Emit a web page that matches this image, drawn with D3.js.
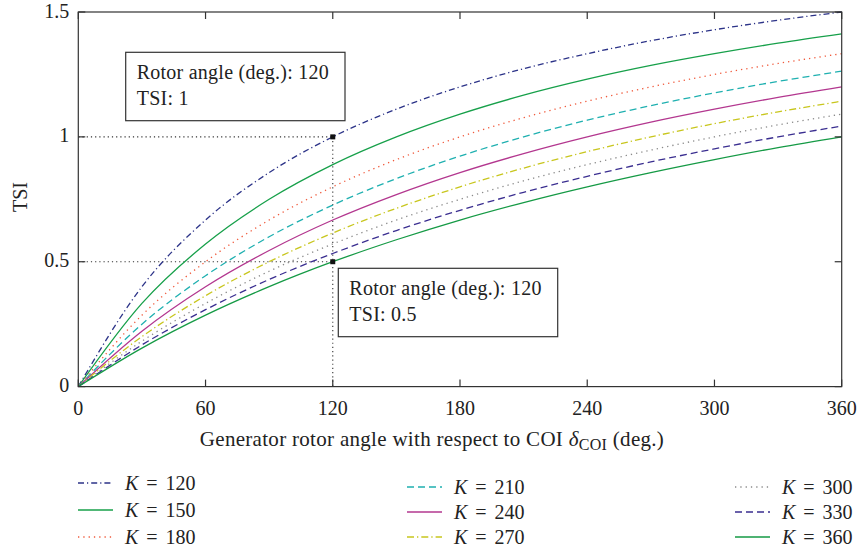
<!DOCTYPE html>
<html><head><meta charset="utf-8">
<script src="https://cdn.jsdelivr.net/npm/d3@7"></script>
<style>body{margin:0;background:#fff}svg{display:block}text{font-family:"Liberation Serif","DejaVu Serif",serif;fill:#222}</style>
</head><body><svg id="c" width="860" height="552"></svg>
<script>
const angles = [0,30,60,90,120,150,180,210,240,270,300,330,360];
const kValues = [120,150,180,210,240,270,300,330,360];
const tsi120 = [0,0.400,0.667,0.857,1.000,1.111,1.200,1.273,1.333,1.385,1.429,1.467,1.500];
const tsi150 = [0,0.333,0.571,0.750,0.889,1.000,1.091,1.167,1.231,1.286,1.333,1.375,1.412];
const tsi180 = [0,0.286,0.500,0.667,0.800,0.909,1.000,1.077,1.143,1.200,1.250,1.294,1.333];
const tsi210 = [0,0.250,0.444,0.600,0.727,0.833,0.923,1.000,1.067,1.125,1.176,1.222,1.263];
const tsi240 = [0,0.222,0.400,0.545,0.667,0.769,0.857,0.933,1.000,1.059,1.111,1.158,1.200];
const tsi270 = [0,0.200,0.364,0.500,0.615,0.714,0.800,0.875,0.941,1.000,1.053,1.100,1.143];
const tsi300 = [0,0.182,0.333,0.462,0.571,0.667,0.750,0.824,0.889,0.947,1.000,1.048,1.091];
const tsi330 = [0,0.167,0.308,0.429,0.533,0.625,0.706,0.778,0.842,0.900,0.952,1.000,1.043];
const tsi360 = [0,0.154,0.286,0.400,0.500,0.588,0.667,0.737,0.800,0.857,0.909,0.957,1.000];
const xTicks = [0,60,120,180,240,300,360];
const yTicks = [0,0.5,1,1.5];
const yTickLabels = ["0","0.5","1","1.5"];
const markers = [{x:120,y:1,label:["Rotor angle (deg.): 120","TSI: 1"]},{x:120,y:0.5,label:["Rotor angle (deg.): 120","TSI: 0.5"]}];

const series = [tsi120,tsi150,tsi180,tsi210,tsi240,tsi270,tsi300,tsi330,tsi360];
const colors = ["#2c3388","#17a04a","#f05a3c","#1fb0b0","#b3378f","#c8c61e","#8a8a8a","#3a2e90","#159a45"];
const dashes = ["6,3,1.2,3","none","1.3,4","7,4","none","7,3,1.3,3","1.3,4","7,4","none"];

const svg = d3.select("#c");
const L=78.3,R=841.7,T=12,B=386.6;
const FS=20;
const x = d3.scaleLinear().domain([0,360]).range([L,R]);
const y = d3.scaleLinear().domain([0,1.5]).range([B,T]);

// guide lines
const g = svg.append("g");
g.append("line").attr("x1",x(0)).attr("x2",x(120)).attr("y1",y(1)).attr("y2",y(1)).attr("stroke","#333").attr("stroke-dasharray","1.2,3").attr("stroke-width",1.1);
g.append("line").attr("x1",x(0)).attr("x2",x(120)).attr("y1",y(0.5)).attr("y2",y(0.5)).attr("stroke","#333").attr("stroke-dasharray","1.2,3").attr("stroke-width",1.1);
g.append("line").attr("x1",x(120)).attr("x2",x(120)).attr("y1",y(1)).attr("y2",y(0)).attr("stroke","#333").attr("stroke-dasharray","1.2,3").attr("stroke-width",1.1);

const line = d3.line().x((d,i)=>x(angles[i])).y(d=>y(d)).curve(d3.curveMonotoneX);
series.forEach((s,i)=>{
  svg.append("path").attr("d",line(s)).attr("fill","none").attr("stroke",colors[i]).attr("stroke-width",1.3).attr("stroke-dasharray",dashes[i]);
});

// axes frame
const ax = svg.append("g").attr("stroke","#333").attr("stroke-width",1.2);
ax.append("rect").attr("x",L).attr("y",T).attr("width",R-L).attr("height",B-T).attr("fill","none");
xTicks.forEach(t=>{
  ax.append("line").attr("x1",x(t)).attr("x2",x(t)).attr("y1",B).attr("y2",B-7);
  ax.append("line").attr("x1",x(t)).attr("x2",x(t)).attr("y1",T).attr("y2",T+7);
  svg.append("text").attr("x",x(t)).attr("y",B+28.5).attr("text-anchor","middle").attr("font-size",FS).text(t);
});
yTicks.forEach((t,i)=>{
  ax.append("line").attr("x1",L).attr("x2",L+7).attr("y1",y(t)).attr("y2",y(t));
  ax.append("line").attr("x1",R).attr("x2",R-7).attr("y1",y(t)).attr("y2",y(t));
  svg.append("text").attr("x",L-9).attr("y",y(t)+5.5).attr("text-anchor","end").attr("font-size",FS).text(yTickLabels[i]);
});

// markers & annotations
const boxes=[{x:125.7,y:52.3,w:219.3,h:68.4},{x:338.3,y:268.3,w:219.4,h:68.4}];
markers.forEach((m,i)=>{
  svg.append("rect").attr("x",x(m.x)-2.5).attr("y",y(m.y)-2.5).attr("width",5).attr("height",5).attr("fill","#111");
  const b=boxes[i];
  svg.append("rect").attr("x",b.x).attr("y",b.y).attr("width",b.w).attr("height",b.h).attr("fill","#fff").attr("stroke","#333").attr("stroke-width",1.2);
  m.label.forEach((s,j)=>svg.append("text").attr("x",b.x+11).attr("y",b.y+27+j*25.5).attr("font-size",FS).attr("letter-spacing",0.25).text(s));
});

// axis titles
const xt = svg.append("text").attr("x",432).attr("y",446).attr("text-anchor","middle").attr("font-size",21).attr("letter-spacing",0.3);
xt.append("tspan").text("Generator rotor angle with respect to COI ");
xt.append("tspan").attr("font-style","italic").text("δ");
xt.append("tspan").attr("font-size",16).attr("dy",4).text("COI");
xt.append("tspan").attr("dy",-4).text(" (deg.)");
svg.append("text").attr("transform","translate(26.5,197) rotate(-90)").attr("text-anchor","middle").attr("font-size",FS).text("TSI");

// legend
const legPos=[[78,483],[78,510],[78,537],[407,487],[407,512],[407,537],[735,487],[735,512],[735,537]];
kValues.forEach((k,i)=>{
  const [lx,ly]=legPos[i];
  svg.append("line").attr("x1",lx).attr("x2",lx+35).attr("y1",ly).attr("y2",ly).attr("stroke",colors[i]).attr("stroke-width",1.3).attr("stroke-dasharray",dashes[i]);
  const t=svg.append("text").attr("x",lx+47).attr("y",ly+7).attr("font-size",FS).attr("word-spacing",3);
  t.append("tspan").attr("font-style","italic").text("K");
  t.append("tspan").text(" = "+k);
});
</script></body></html>
